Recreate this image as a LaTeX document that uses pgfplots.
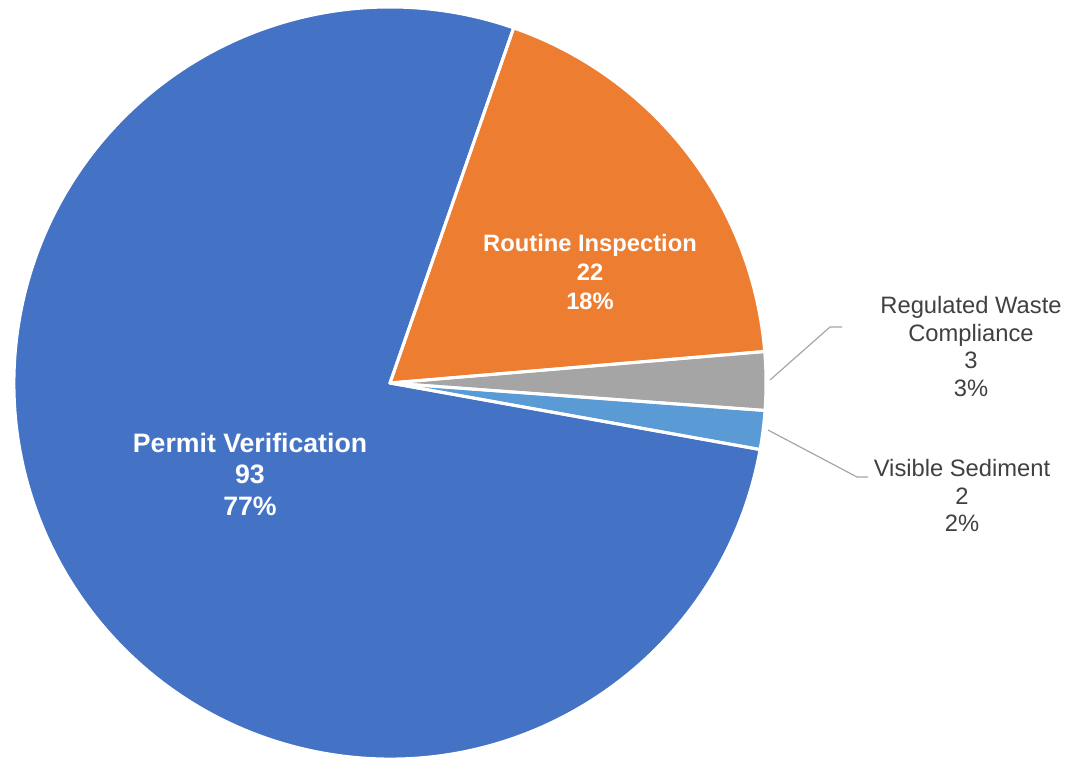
\documentclass[border=0pt]{standalone}
\usepackage{pgfplots}
\pgfplotsset{compat=1.18}
\usepackage{pgfplotstable}
\usepackage{fontspec}
\setmainfont{Liberation Sans}
\definecolor{cPermit}{HTML}{4472C4}
\definecolor{cRoutine}{HTML}{ED7D31}
\definecolor{cRegulated}{HTML}{A5A5A5}
\definecolor{cVisible}{HTML}{5B9BD5}
\definecolor{lbl}{HTML}{404040}
\definecolor{leader}{HTML}{A6A6A6}

\pgfplotstableread{
id value
0 93
1 22
2 3
3 2
}\piedata

\begin{document}
\begin{tikzpicture}
\pgfplotstablegetelem{0}{value}\of\piedata \pgfmathsetmacro{\vA}{\pgfplotsretval}
\pgfplotstablegetelem{1}{value}\of\piedata \pgfmathsetmacro{\vB}{\pgfplotsretval}
\pgfplotstablegetelem{2}{value}\of\piedata \pgfmathsetmacro{\vC}{\pgfplotsretval}
\pgfplotstablegetelem{3}{value}\of\piedata \pgfmathsetmacro{\vD}{\pgfplotsretval}
\pgfmathsetmacro{\tot}{\vA+\vB+\vC+\vD}
\pgfmathsetmacro{\aA}{-10.2}
\pgfmathsetmacro{\aB}{\aA-360*(\vA/\tot)}
\pgfmathsetmacro{\aC}{\aB-360*(\vB/\tot)}
\pgfmathsetmacro{\aD}{\aC-360*(\vC/\tot)}
\pgfmathsetmacro{\aE}{\aD-360*(\vD/\tot)}
\def\R{282pt}
\begin{axis}[x=0.75pt,y=0.75pt,xmin=0,xmax=1069,ymin=0,ymax=761,
  hide axis,clip=false,scale only axis]
 \path (axis cs:0,0) rectangle (axis cs:1069,761);
 % wedges
 \fill[cPermit] (axis cs:390,378) -- ++(\aA:\R) arc[start angle=\aA, end angle=\aB, radius=\R] -- cycle;
 \fill[cRoutine] (axis cs:390,378) -- ++(\aB:\R) arc[start angle=\aB, end angle=\aC, radius=\R] -- cycle;
 \fill[cRegulated] (axis cs:390,378) -- ++(\aC:\R) arc[start angle=\aC, end angle=\aD, radius=\R] -- cycle;
 \fill[cVisible] (axis cs:390,378) -- ++(\aD:\R) arc[start angle=\aD, end angle=\aE, radius=\R] -- cycle;
 % borders
 \draw[white, line width=2.25pt, line join=round] (axis cs:390,378) -- ++(\aA:\R) arc[start angle=\aA, end angle=\aB, radius=\R] -- cycle;
 \draw[white, line width=2.25pt, line join=round] (axis cs:390,378) -- ++(\aB:\R) arc[start angle=\aB, end angle=\aC, radius=\R] -- cycle;
 \draw[white, line width=2.25pt, line join=round] (axis cs:390,378) -- ++(\aC:\R) arc[start angle=\aC, end angle=\aD, radius=\R] -- cycle;
 \draw[white, line width=2.25pt, line join=round] (axis cs:390,378) -- ++(\aD:\R) arc[start angle=\aD, end angle=\aE, radius=\R] -- cycle;
 % leader lines
 \draw[leader, line width=0.9pt] (axis cs:770,381) -- (axis cs:830,434) -- (axis cs:842,434);
 \draw[leader, line width=0.9pt] (axis cs:768,331) -- (axis cs:857,284) -- (axis cs:868,284);
 % labels
 \node[white, font=\bfseries\fontsize{20}{23.6}\selectfont, align=center] at (axis cs:250,287) {Permit Verification\\93\\77\%};
 \node[white, font=\bfseries\fontsize{17.8}{21.4}\selectfont, align=center] at (axis cs:590,489) {Routine Inspection\\22\\18\%};
 \node[lbl, font=\fontsize{17.8}{20.9}\selectfont, align=center] at (axis cs:971,414.5) {Regulated Waste\\Compliance\\3\\3\%};
 \node[lbl, font=\fontsize{17.8}{20.9}\selectfont, align=center] at (axis cs:962,265.5) {Visible Sediment\\2\\2\%};
\end{axis}
\pgfresetboundingbox
\useasboundingbox (current axis.south west) rectangle (current axis.north east);
\end{tikzpicture}
\end{document}
